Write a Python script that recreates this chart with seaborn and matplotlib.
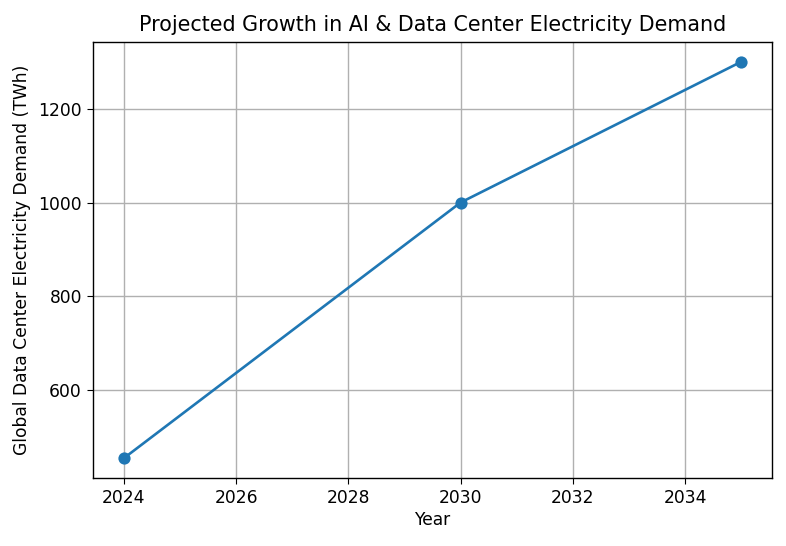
import matplotlib
matplotlib.use("Agg")
import matplotlib.pyplot as plt
import seaborn as sns
import pandas as pd

years = [2024, 2030, 2035]
demand_twh = [455, 1000, 1300]

title = "Projected Growth in AI & Data Center Electricity Demand"
xlabel = "Year"
ylabel = "Global Data Center Electricity Demand (TWh)"

plt.rcParams['font.family'] = ['DejaVu Sans']
df = pd.DataFrame({"Year": years, "Demand": demand_twh})

fig = plt.figure(figsize=(7.86, 5.46), dpi=100)
ax = fig.add_axes([93/786, 1-478/546, (772-93)/786, (478-42)/546])
sns.lineplot(data=df, x="Year", y="Demand", marker="o", markersize=8.8,
             markeredgewidth=0, color="#1f77b4", linewidth=1.9, ax=ax)
ax.grid(True, color="#b0b0b0", linewidth=1)
ax.set_axisbelow(True)
ax.set_xticks([2024, 2026, 2028, 2030, 2032, 2034])
ax.set_yticks([600, 800, 1000, 1200])
ax.tick_params(labelsize=12.3, length=4.5)
ax.set_title(title, fontsize=14.9, pad=8)
ax.set_xlabel(xlabel, fontsize=12.3, labelpad=2.5)
ax.set_ylabel(ylabel, fontsize=12.3, labelpad=5)
for s in ax.spines.values():
    s.set_linewidth(1)
fig.savefig("out.png", dpi=100)
